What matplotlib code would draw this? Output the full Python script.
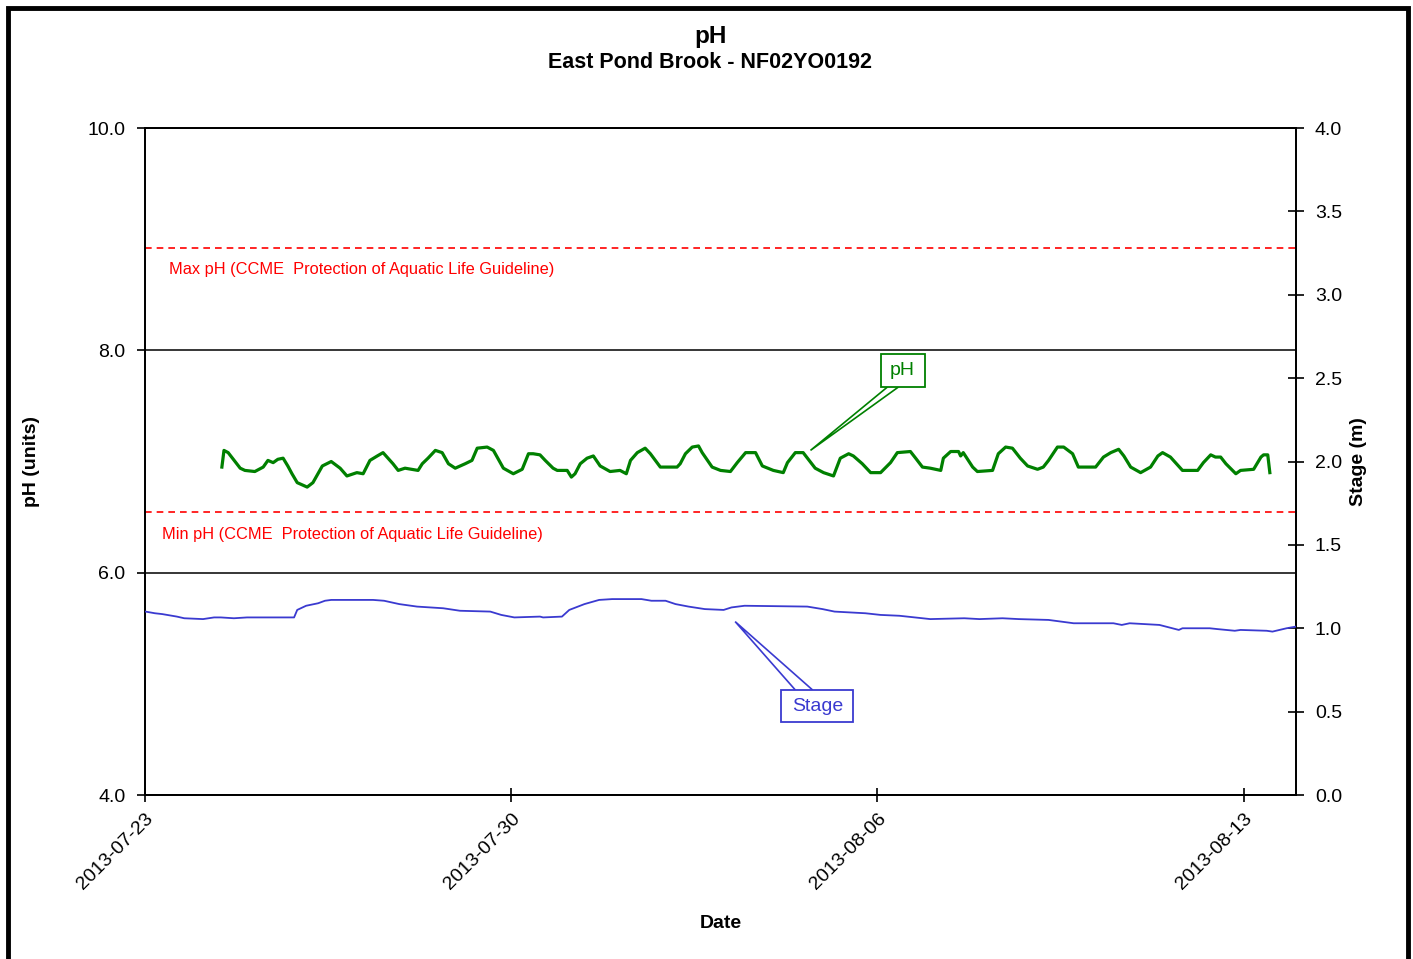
import numpy as np
import pandas as pd
import matplotlib
matplotlib.use('Agg')
import matplotlib.pyplot as plt
import matplotlib.dates as mdates
from matplotlib.patches import Rectangle, Polygon

plt.rcParams['font.family'] = ['Liberation Sans', 'DejaVu Sans']

START = '2013-07-23'

# pH readings: days since START, pH units
ph_days = [1.47, 1.51, 1.59, 1.82, 1.91, 2.10, 2.26, 2.35, 2.45, 2.54, 2.64, 2.73, 2.81, 2.91,
           3.10, 3.21, 3.39, 3.56, 3.73, 3.86, 4.05, 4.17, 4.30, 4.44, 4.55, 4.74, 4.84, 4.97,
           5.22, 5.30, 5.41, 5.55, 5.68, 5.80, 5.93, 6.12, 6.25, 6.35, 6.54, 6.66, 6.85, 7.04,
           7.21, 7.33, 7.42, 7.55, 7.65, 7.80, 7.88, 8.07, 8.15, 8.22, 8.32, 8.45, 8.57, 8.70,
           8.89, 9.08, 9.20, 9.28, 9.41, 9.56, 9.66, 9.85, 10.17, 10.23, 10.33, 10.46, 10.58,
           10.65, 10.84, 11.00, 11.19, 11.32, 11.48, 11.67, 11.80, 12.01, 12.20, 12.28, 12.43,
           12.58, 12.81, 12.97, 13.16, 13.29, 13.45, 13.54, 13.71, 13.87, 14.06, 14.25, 14.38,
           14.63, 14.73, 14.86, 15.01, 15.21, 15.26, 15.40, 15.55, 15.59, 15.64, 15.82, 15.91,
           16.20, 16.31, 16.45, 16.58, 16.73, 16.87, 17.06, 17.17, 17.27, 17.44, 17.56, 17.73,
           17.84, 18.17, 18.32, 18.46, 18.61, 18.71, 18.84, 19.03, 19.22, 19.36, 19.45, 19.60,
           19.83, 20.12, 20.23, 20.37, 20.46, 20.56, 20.66, 20.85, 20.94, 21.19, 21.33, 21.38,
           21.46, 21.50]
ph_values = [6.95, 7.10, 7.08, 6.94, 6.92, 6.91, 6.95, 7.01, 6.99, 7.02, 7.03, 6.96, 6.89, 6.81,
             6.77, 6.81, 6.96, 7.00, 6.94, 6.87, 6.90, 6.89, 7.01, 7.05, 7.08, 6.98, 6.92, 6.94,
             6.92, 6.98, 7.03, 7.10, 7.08, 6.98, 6.94, 6.98, 7.01, 7.12, 7.13, 7.10, 6.94, 6.89,
             6.93, 7.07, 7.07, 7.06, 7.01, 6.94, 6.92, 6.92, 6.86, 6.89, 6.98, 7.03, 7.05, 6.96,
             6.91, 6.92, 6.89, 7.01, 7.08, 7.12, 7.07, 6.95, 6.95, 6.98, 7.07, 7.13, 7.14,
             7.08, 6.95, 6.92, 6.91, 6.99, 7.08, 7.08, 6.96, 6.92, 6.90, 6.99, 7.08,
             7.08, 6.94, 6.90, 6.87, 7.03, 7.07, 7.05, 6.98, 6.90, 6.90, 6.99, 7.08,
             7.09, 7.03, 6.95, 6.94, 6.92, 7.03, 7.09, 7.09, 7.05, 7.08, 6.95, 6.91,
             6.92, 7.07, 7.13, 7.12, 7.03, 6.96, 6.93, 6.95, 7.01, 7.13, 7.13, 7.07,
             6.95, 6.95, 7.04, 7.08, 7.11, 7.05, 6.95, 6.90, 6.95, 7.05, 7.08, 7.04,
             6.92, 6.92, 6.99, 7.06, 7.04, 7.04, 6.98, 6.89, 6.92, 6.93, 7.04, 7.06,
             7.06, 6.90]

# stage readings: days since START, metres
stage_days = [0.01, 0.19, 0.33, 0.61, 0.75, 1.11, 1.32, 1.45, 1.70, 1.95, 2.85, 2.91, 3.08,
              3.31, 3.44, 3.56, 4.36, 4.57, 4.86, 5.20, 5.70, 6.02, 6.60, 6.81, 7.06, 7.55,
              7.61, 7.97, 8.11, 8.40, 8.68, 8.93, 9.49, 9.68, 9.95, 10.14, 10.39, 10.70,
              11.06, 11.21, 11.46, 12.66, 12.95, 13.18, 13.77, 14.06, 14.42, 15.01, 15.66,
              15.95, 16.39, 16.70, 17.27, 17.75, 18.51, 18.67, 18.82, 19.39, 19.76, 19.83,
              20.35, 20.50, 20.83, 20.94, 21.44, 21.55, 21.82, 22.00]
stage_values = [1.100, 1.090, 1.085, 1.070, 1.060, 1.055, 1.065, 1.065, 1.060, 1.065, 1.065,
                1.110, 1.135, 1.150, 1.165, 1.170, 1.170, 1.165, 1.145, 1.130, 1.120, 1.105,
                1.100, 1.080, 1.065, 1.070, 1.065, 1.070, 1.110, 1.145, 1.170, 1.175, 1.175,
                1.165, 1.165, 1.145, 1.130, 1.115, 1.110, 1.125, 1.135, 1.130, 1.115, 1.100,
                1.090, 1.080, 1.075, 1.055, 1.060, 1.055, 1.060, 1.055, 1.050, 1.030, 1.030,
                1.020, 1.030, 1.020, 0.990, 1.000, 1.000, 0.995, 0.985, 0.990, 0.985, 0.980,
                1.000, 1.010]

ph_max_guideline = 8.92
ph_min_guideline = 6.55
date_ticks = ['2013-07-23', '2013-07-30', '2013-08-06', '2013-08-13']

t0 = mdates.date2num(pd.Timestamp(START))
ph_x = t0 + np.array(ph_days)
stage_x = t0 + np.array(stage_days)

fig = plt.figure(figsize=(14.13, 9.59), dpi=100)
ax = fig.add_axes([0.1026, 0.1710, 0.8146, 0.6955])
ax2 = ax.twinx()

ph_color = '#008000'
stage_color = '#3a3ad0'

ax.plot(ph_x, ph_values, color=ph_color, lw=2.3, zorder=3)
ax2.plot(stage_x, stage_values, color=stage_color, lw=1.3, zorder=3)

# guideline lines
for val in (ph_max_guideline, ph_min_guideline):
    ax.axhline(val, color='#ff0000', ls=(0, (4, 3)), lw=1.2, zorder=2)
ax.text(t0 + 0.46, 8.73, 'Max pH (CCME  Protection of Aquatic Life Guideline)',
        color='#ff0000', fontsize=11.8, va='center', ha='left')
ax.text(t0 + 0.33, 6.34, 'Min pH (CCME  Protection of Aquatic Life Guideline)',
        color='#ff0000', fontsize=11.8, va='center', ha='left')

# axes limits and ticks
ax.set_xlim(t0, t0 + 22)
ax.set_ylim(4, 10)
ax.set_yticks([4, 6, 8, 10])
ax.yaxis.set_major_formatter(matplotlib.ticker.FormatStrFormatter('%.1f'))
ax.yaxis.grid(True, color='black', lw=1.1)
ax.set_axisbelow(True)
ax2.set_ylim(0, 4)
ax2.set_yticks(np.arange(0, 4.01, 0.5))
ax2.yaxis.set_major_formatter(matplotlib.ticker.FormatStrFormatter('%.1f'))

ax.xaxis.set_major_locator(matplotlib.ticker.FixedLocator(
    [mdates.date2num(pd.Timestamp(d)) for d in date_ticks]))
ax.xaxis.set_major_formatter(mdates.DateFormatter('%Y-%m-%d'))
for lbl in ax.get_xticklabels():
    lbl.set_rotation(45)
    lbl.set_ha('right')
    lbl.set_rotation_mode('anchor')

ax.tick_params(axis='y', direction='out', length=6, width=1.2, labelsize=14, pad=8)
ax.tick_params(axis='x', direction='inout', length=10, width=1.2, labelsize=14, pad=6)
ax2.tick_params(axis='y', direction='inout', length=11, width=1.2, labelsize=14, pad=8)

for a in (ax, ax2):
    for s in a.spines.values():
        s.set_linewidth(1.3)
        s.set_color('black')

ax.set_ylabel('pH (units)', fontsize=14, fontweight='bold', labelpad=34)
ax2.set_ylabel('Stage (m)', fontsize=14, fontweight='bold', labelpad=6)
ax.set_xlabel('Date', fontsize=14, fontweight='bold', labelpad=16)

fig.text(0.5025, 1 - 37 / 959, 'pH', fontsize=17.5, fontweight='bold', ha='center', va='center')
fig.text(0.5025, 1 - 63 / 959, 'East Pond Brook - NF02YO0192', fontsize=15.5,
         fontweight='bold', ha='center', va='center')


def callout(axis, label, box, base, tip, color):
    x0, x1, y0, y1 = box
    wedge = Polygon([(t0 + base[0], base[2]), (t0 + tip[0], tip[1]), (t0 + base[1], base[2])],
                    closed=False, fill=False, ec=color, lw=1.2, zorder=5)
    axis.add_patch(wedge)
    rect = Rectangle((t0 + x0, y0), x1 - x0, y1 - y0, fc='white', ec=color, lw=1.3, zorder=6)
    axis.add_patch(rect)
    axis.text(t0 + (x0 + x1) / 2, (y0 + y1) / 2 - 0.01 * (y1 - y0), label, color=color,
              fontsize=14, ha='center', va='center', zorder=7)


callout(ax, 'pH', (14.06, 14.90, 7.67, 7.97), (14.19, 14.40, 7.67), (12.72, 7.10), ph_color)
callout(ax2, 'Stage', (12.16, 13.54, 0.44, 0.63), (12.43, 12.76, 0.63), (11.28, 1.04),
        stage_color)

# outer frame
fig.patches.append(Rectangle((8 / 1413, -0.02), 1400 / 1413, 1 - 8 / 959 + 0.02,
                             transform=fig.transFigure, fill=False, ec='black', lw=3.5))

fig.savefig('out.png', dpi=100)
